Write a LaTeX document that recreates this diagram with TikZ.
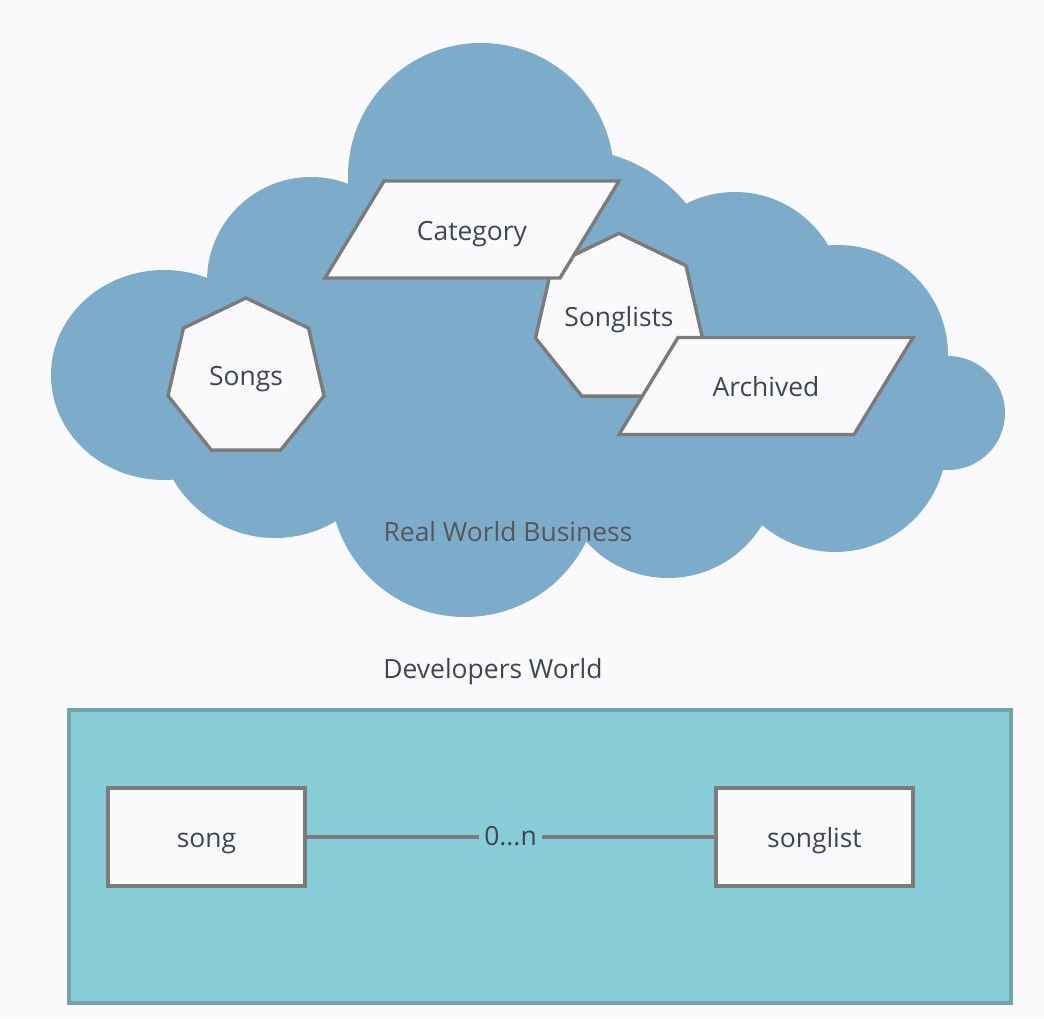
\documentclass[tikz,border=0pt]{standalone}
\usepackage{fontspec}
\setmainfont{Open Sans}
\usepackage{xcolor}
\usepackage{tikz}
\usetikzlibrary{shapes.geometric}
\definecolor{paper}{HTML}{FAFAFD}
\definecolor{cloudBlue}{HTML}{7DACCB}
\definecolor{edgeGrey}{HTML}{7B7B7B}
\definecolor{inkText}{HTML}{3F464E}
\definecolor{busText}{HTML}{55585B}
\definecolor{devFill}{HTML}{87CCD7}
\definecolor{devEdge}{HTML}{70A3AA}

\begin{document}
\begin{tikzpicture}[x=0.025cm, y=-0.025cm,
    every node/.style={font=\fontsize{18.8}{22}\selectfont, text=inkText, text height=19pt, text depth=3.8pt},
    hepta/.style={regular polygon, regular polygon sides=7, draw=edgeGrey, line width=2.4pt, fill=paper, minimum size=4cm, inner sep=0pt, text height=14.8pt},
    paraframe/.style={draw=edgeGrey, line width=2.4pt, fill=paper},
    entity/.style={rectangle, draw=edgeGrey, line width=2.4pt, fill=paper, minimum width=4.925cm, minimum height=2.45cm},
    link/.style={draw=edgeGrey, line width=2.4pt}]
    % draw background
    \fill[paper] (0,0) rectangle (1044,1018);

    % draw cloud
    \foreach \cx/\cy/\r in {481/176/133, 311/281/104, 570/300/151, 735/300/108, 838/355/110, 948/413/57, 835/440/112, 668/468/110, 465/482/135, 275/420/118}
    \fill[cloudBlue] (\cx,\cy) circle[radius=\r];
    \fill[cloudBlue] (164,375) ellipse[x radius=113, y radius=105];
    \fill[cloudBlue] (560,380) ellipse[x radius=300, y radius=150];

    % draw business shapes
    \node[hepta] (songs) at (246,378) {Songs};
    \node[hepta] (songlists) at (619,319) {Songlists};
    \foreach \nm/\px/\py/\txt in {category/472/229.5/Category, archived/766/386/Archived}
    {
        \draw[paraframe] (\px-147,\py+48.5) -- (\px+88,\py+48.5) -- (\px+147,\py-48.5) -- (\px-88,\py-48.5) -- cycle;
        \node (\nm) at (\px,\py) {\txt};
    }
    \node[text=busText] (business) at (508,531) {Real World Business};

    % draw developers world
    \node (devworld) at (493,668) {Developers World};
    \draw[fill=devFill, draw=devEdge, line width=2.2pt] (69,710) rectangle (1011,1003);
    \node[entity] (song) at (206.5,837) {song};
    \node[entity] (songlist) at (814.5,837) {songlist};
    \draw[link] (song) -- node[fill=devFill, inner sep=4pt, text height=12pt, text depth=0pt] (multi) {0...n} (songlist);
\end{tikzpicture}
\end{document}
